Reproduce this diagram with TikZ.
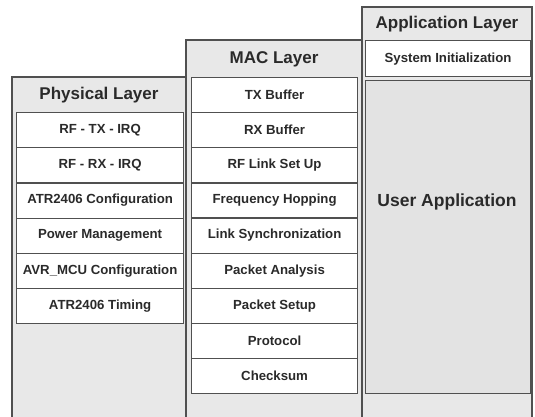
\documentclass[tikz,border=0pt]{standalone}
\usepackage{fontspec}
\setmainfont{Liberation Sans}
\begin{document}
\begin{tikzpicture}[x=1pt,y=-1pt,
  col/.style={draw=bordc,fill=colbg,line width=1.3pt},
  hdr/.style={font=\fontsize{17}{19}\selectfont\bfseries,text=txtc,inner sep=0pt},
  item/.style={draw=bordc,fill=white,line width=1.2pt,anchor=north west,inner sep=0pt,
    font=\fontsize{13.2}{15}\selectfont\bfseries,text=txtc},
]
\definecolor{bordc}{HTML}{505050}
\definecolor{colbg}{HTML}{E8E8E8}
\definecolor{appbg}{HTML}{E3E3E3}
\definecolor{txtc}{HTML}{2A2A2A}
\useasboundingbox (0,0) rectangle (535,416);
% columns
\path[col] (12,77) rectangle (186,418);
\path[col] (186,40) rectangle (362,418);
\path[col] (362,7) rectangle (532,418);
% headers
\node[hdr] (hphy) at (99,95) {Physical Layer};
\node[hdr] (hmac) at (274,59) {MAC Layer};
\node[hdr] (happ) at (447,24) {Application Layer};
% physical items
\foreach \t [count=\i from 0] in {RF - TX - IRQ, RF - RX - IRQ, ATR2406 Configuration, Power Management, AVR\_MCU Configuration, ATR2406 Timing}{
  \node[item,minimum width=167pt,minimum height=35.2pt] (p\i) at (16,{112+35.2*\i}) {\t};
}
% mac items
\foreach \t [count=\i from 0] in {TX Buffer, RX Buffer, RF Link Set Up, Frequency Hopping, Link Synchronization, Packet Analysis, Packet Setup, Protocol, Checksum}{
  \node[item,minimum width=166pt,minimum height=35.1pt] (m\i) at (191,{77+35.1*\i}) {\t};
}
% application items
\node[item,minimum width=165pt,minimum height=36pt] (sys) at (365,40) {System Initialization};
\node[item,fill=appbg,minimum width=165pt,minimum height=313pt,font=\fontsize{17.5}{19}\selectfont\bfseries] (user) at (365,80) {};
\node[hdr,font=\fontsize{17.5}{19}\selectfont\bfseries] (ulabel) at (447,202) {User Application};
\end{tikzpicture}
\end{document}
